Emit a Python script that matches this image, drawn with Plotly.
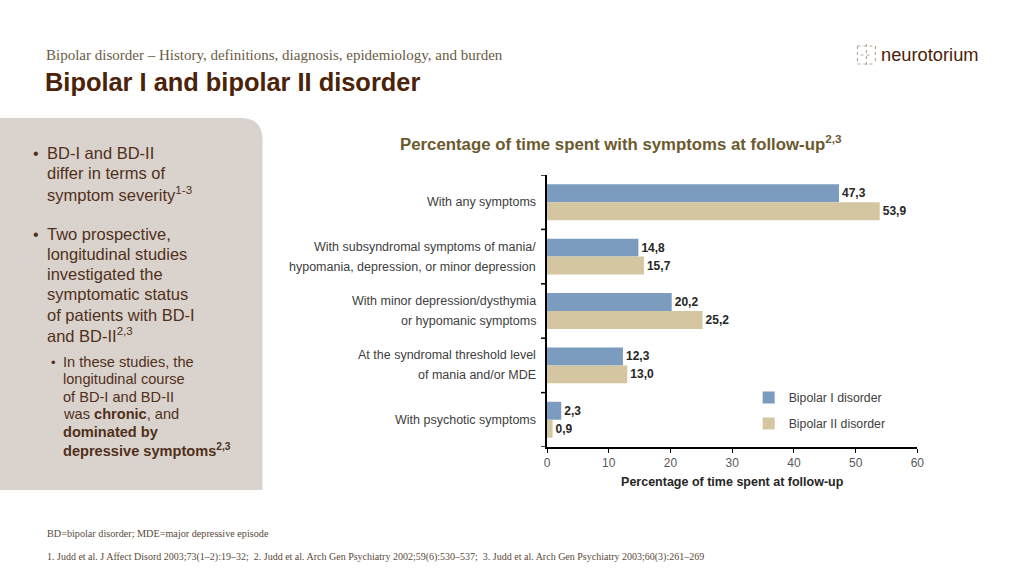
import plotly.graph_objects as go

categories = [
    "With any symptoms",
    "With subsyndromal symptoms of mania/<br>hypomania, depression, or minor depression",
    "With minor depression/dysthymia<br>or hypomanic symptoms",
    "At the syndromal threshold level<br>of mania and/or MDE",
    "With psychotic symptoms",
]
bipolar_i = [47.3, 14.8, 20.2, 12.3, 2.3]
bipolar_ii = [53.9, 15.7, 25.2, 13.0, 0.9]
series_names = ["Bipolar I disorder", "Bipolar II disorder"]
x_ticks = [0, 10, 20, 30, 40, 50, 60]

W, H = 1024, 576
def px(x):
    return (x - 2) / 0.992 / W
def py(y):
    return 1 - y / H

BLUE = "#7b9cbf"
TAN = "#d4c6a0"
BROWN = "#4a2308"
SANS = "Liberation Sans, Arial, sans-serif"
SERIF = "Liberation Serif, Times New Roman, serif"

def fmt(v):
    return f"{v:.1f}".replace(".", ",")

fig = go.Figure()
for name, vals, col in [(series_names[0], bipolar_i, BLUE), (series_names[1], bipolar_ii, TAN)]:
    fig.add_trace(go.Bar(
        y=list(range(len(categories))), x=vals, orientation="h", name=name,
        marker=dict(color=col, line=dict(width=0)),
        text=[fmt(v) for v in vals], textposition="outside",
        textfont=dict(family=SANS, size=12, color="#262626", weight="bold"),
        cliponaxis=False, legendgroup=name, hoverinfo="skip",
    ))

fig.update_layout(
    width=W, height=H, margin=dict(l=0, r=0, t=0, b=0),
    paper_bgcolor="white", plot_bgcolor="white",
    barmode="group", bargap=0.34, bargroupgap=0,
    showlegend=True,
    legend=dict(x=px(749), y=py(383), xanchor="left", yanchor="top",
                font=dict(family=SANS, size=12.3, color="#404040"),
                bgcolor="rgba(0,0,0,0)", traceorder="grouped", tracegroupgap=7,
                itemwidth=30, itemclick=False),
    xaxis=dict(domain=[px(547), px(918)], range=[0, 60], tickvals=x_ticks,
               showgrid=False, zeroline=False, showline=True, linecolor="#000000",
               linewidth=1.5, ticks="outside", ticklen=4, tickcolor="#000000",
               tickfont=dict(family=SANS, size=12, color="#595959"),
               title=dict(text="<b>Percentage of time spent at follow-up</b>",
                          font=dict(family=SANS, size=12.5, color="#262626"), standoff=8)),
    yaxis=dict(domain=[py(447), py(175)], range=[len(categories) - 0.5, -0.5],
               type="linear", tickvals=list(range(len(categories))),
               showticklabels=False,
               showgrid=False, zeroline=False, showline=True, linecolor="#000000", linewidth=1.5,
               ticks=""),
)

shapes = []
# y-axis boundary ticks, on the category scale
for b in range(len(categories) + 1):
    shapes.append(dict(type="line", xref="paper", yref="y", x0=px(541), x1=px(547),
                       y0=b - 0.5, y1=b - 0.5, line=dict(color="#000000", width=1.5)))
# left panel with rounded top-right corner
r = 22
x0, x1, y0, y1 = -10, 262, 118, 490
path = (f"M {px(x0)} {py(y0)} L {px(x1 - r)} {py(y0)} "
        f"Q {px(x1)} {py(y0)} {px(x1)} {py(y0 + r)} "
        f"L {px(x1)} {py(y1)} L {px(x0)} {py(y1)} Z")
shapes.append(dict(type="path", xref="paper", yref="paper", path=path,
                   fillcolor="#dad3cd", line=dict(width=0), layer="below"))
# simple logo icon
ic = "#b8a99a"
for (a, b, c, d) in [(858, 46, 876, 46), (858, 64, 876, 64), (867, 44, 867, 66),
                     (858, 46, 858, 64), (876, 46, 876, 64), (861, 55, 873, 55)]:
    shapes.append(dict(type="line", xref="paper", yref="paper",
                       x0=px(a), y0=py(b), x1=px(c), y1=py(d),
                       line=dict(color=ic, width=1.2, dash="dot")))
fig.update_layout(shapes=shapes)

ann = []
def text(x, y, s, size, color, family=SANS, anchor="left", yanchor="middle", **kw):
    ann.append(dict(x=px(x), y=py(y), xref="paper", yref="paper", text=s, showarrow=False,
                    xanchor=anchor, yanchor=yanchor, align=anchor if anchor != "center" else "center",
                    borderpad=0, font=dict(family=family, size=size, color=color), **kw))

# category labels, placed on the category axis
for i, lab in enumerate(categories):
    lines = lab.split("<br>")
    n = len(lines)
    for j, ln in enumerate(lines):
        ann.append(dict(x=px(537), y=i, xref="paper", yref="y", text=ln, showarrow=False,
                        xanchor="right", yanchor="middle", align="right", borderpad=0,
                        yshift=(n - 1) * 10 - j * 20,
                        font=dict(family=SANS, size=12.5, color="#404040")))

text(44, 55, "Bipolar disorder – History, definitions, diagnosis, epidemiology, and burden", 15, "#6b5b45", SERIF)
text(43, 82, "<b>Bipolar I and bipolar II disorder</b>", 25.4, BROWN)
text(881, 54, "neurotorium", 18.3, BROWN)

text(621, 143, "<b>Percentage of time spent with symptoms at follow-up<sup>2,3</sup></b>", 16.8, "#6b5a2e", anchor="center")

PAN = "#50301a"
b1 = ["BD-I and BD-II", "differ in terms of", "symptom severity<sup>1-3</sup>"]
b1y = [153, 173, 194]
b2 = ["Two prospective,", "longitudinal studies", "investigated the", "symptomatic status",
      "of patients with BD-I", "and BD-II<sup>2,3</sup>"]
b2y = [234, 254, 274, 294, 315, 335]
b3 = ["In these studies, the", "longitudinal course", "of BD-I and BD-II",
      "was <b>chronic</b>, and", "<b>dominated by</b>", "<b>depressive symptoms<sup>2,3</sup></b>"]
b3y = [362, 379, 397, 414, 432, 450]
text(31, 153, "•", 16, PAN)
for s, y in zip(b1, b1y):
    text(45, y, s, 16.5, PAN)
text(31, 234, "•", 16, PAN)
for s, y in zip(b2, b2y):
    text(45, y, s, 16.5, PAN)
text(49, 362, "•", 13, PAN)
for s, y in zip(b3, b3y):
    text(61, y, s, 14.6, PAN)

text(45, 533, "BD=bipolar disorder; MDE=major depressive episode", 10.2, "#5a4a3a", SERIF)
text(45, 557, "1. Judd et al. J Affect Disord 2003;73(1–2):19–32;  2. Judd et al. Arch Gen Psychiatry 2002;59(6):530–537;  3. Judd et al. Arch Gen Psychiatry 2003;60(3):261–269",
     10, "#5a4a3a", SERIF)

fig.update_layout(annotations=ann)
fig.write_html(
    "out.html",
    config={"responsive": False, "displayModeBar": False},
    post_script="document.body.style.margin='0px';document.body.style.padding='0px';document.documentElement.style.overflow='hidden';",
)
